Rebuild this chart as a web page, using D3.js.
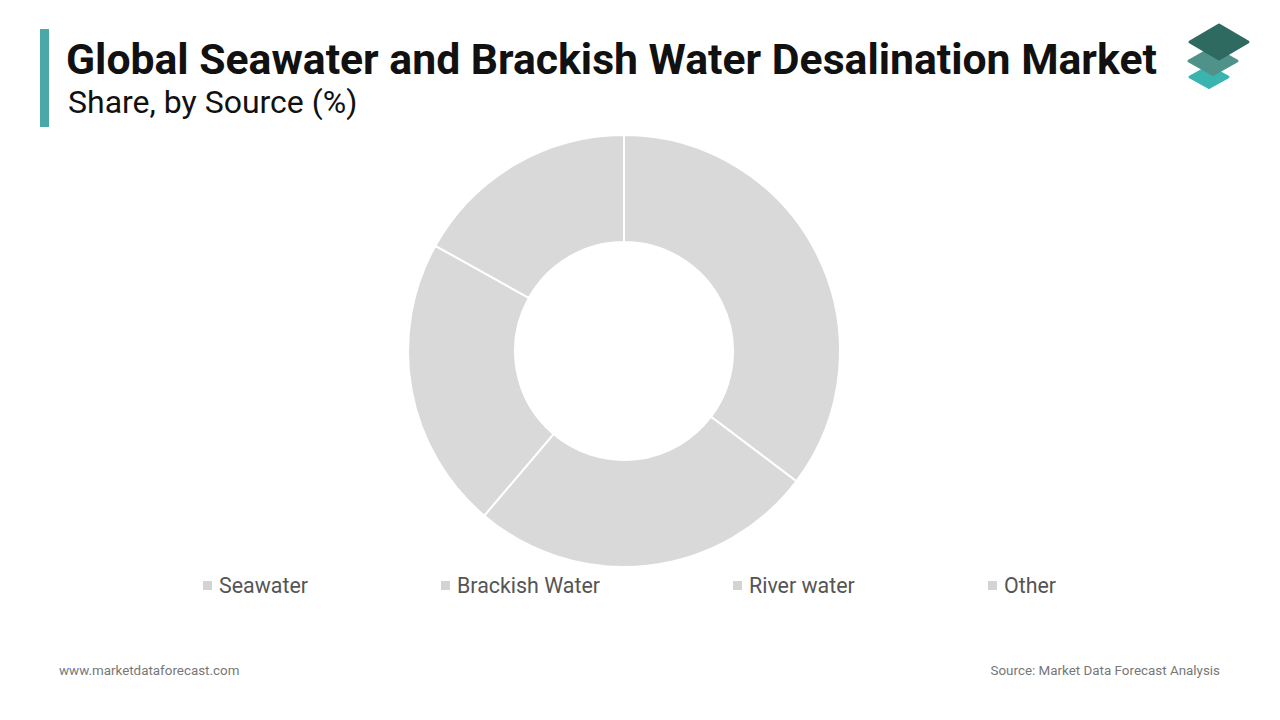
<!DOCTYPE html>
<html><head><meta charset="utf-8">
<script src="https://cdn.jsdelivr.net/npm/d3@7"></script>
<style>body{margin:0;background:#fff;}svg{display:block;font-family:Roboto,"Noto Sans",sans-serif;}</style>
</head><body>
<svg id="c" width="1280" height="720"></svg>
<script>
const categories = ["Seawater", "Brackish Water", "River water", "Other"];
const shares = [35.3, 25.9, 21.9, 16.9];
const legendX = [203, 441, 733, 988];

const svg = d3.select("#c");
svg.append("rect").attr("x",40).attr("y",29).attr("width",9).attr("height",98).attr("fill","#4aa8a8");
svg.append("text").attr("x",66).attr("y",74).attr("font-size",42.7).attr("font-weight",700).attr("fill","#111")
  .text("Global Seawater and Brackish Water Desalination Market");
svg.append("text").attr("x",68).attr("y",113).attr("font-size",32).attr("fill","#111").text("Share, by Source (%)");

// logo
const logo = svg.append("g");
function diamond(cx, cy, w, h, col){
  logo.append("path").attr("d",`M${cx-w/2},${cy} L${cx},${cy-h/2} L${cx+w/2},${cy} L${cx},${cy+h/2} Z`)
    .attr("fill",col).attr("stroke",col).attr("stroke-width",3).attr("stroke-linejoin","round");
}
diamond(1209, 77, 38, 21, "#3bb4b0");
diamond(1213, 61, 48, 27, "#4f9289");
diamond(1219, 42, 58, 34, "#2f6a61");

const cx = 624, cy = 351, R = 216, r = 109;
const pie = d3.pie().sort(null).value(d => d)(shares);
const arc = d3.arc().innerRadius(r).outerRadius(R);
svg.append("g").attr("transform",`translate(${cx},${cy})`).selectAll("path").data(pie).join("path")
  .attr("d",arc).attr("fill","#d9d9d9").attr("stroke","#fff").attr("stroke-width",2);

const lg = svg.append("g");
categories.forEach((c,i)=>{
  lg.append("rect").attr("x",legendX[i]).attr("y",581).attr("width",9).attr("height",9).attr("fill","#d3d3d3");
  lg.append("text").attr("x",legendX[i]+16).attr("y",593).attr("font-size",21.4).attr("fill","#555").text(c);
});

svg.append("text").attr("x",59).attr("y",675).attr("font-size",13.4).attr("fill","#777").text("www.marketdataforecast.com");
svg.append("text").attr("x",1220).attr("y",675).attr("font-size",13.4).attr("fill","#777").attr("text-anchor","end").text("Source: Market Data Forecast Analysis");
</script>
</body></html>
